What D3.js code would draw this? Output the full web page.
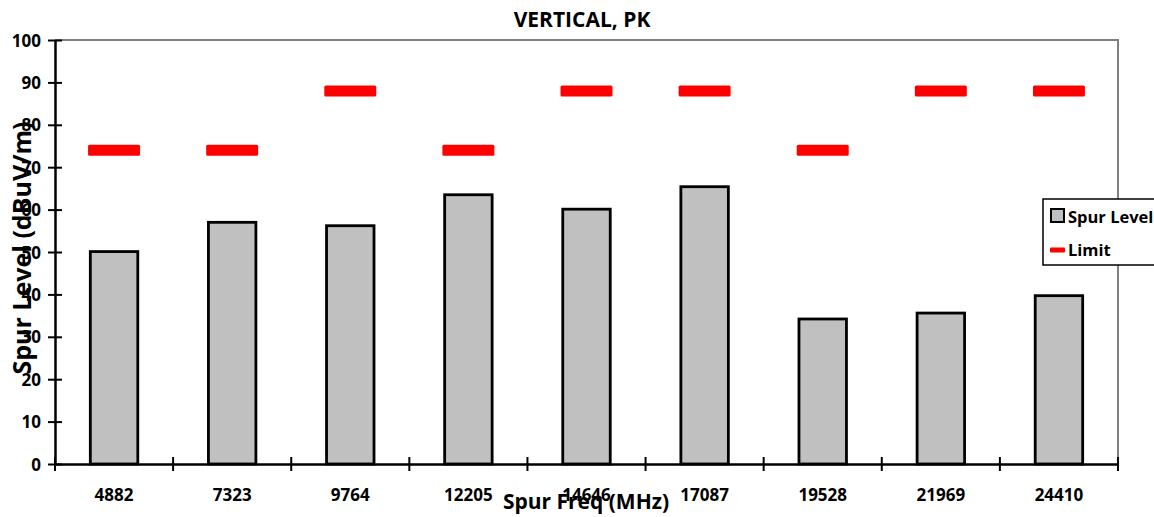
<!DOCTYPE html>
<html>
<head>
<meta charset="utf-8">
<script src="https://cdn.jsdelivr.net/npm/d3@7"></script>
<style>
  html, body { margin: 0; padding: 0; background: #fff; }
  svg { display: block; }
  text { font-family: "Open Sans", "Liberation Sans", sans-serif; font-weight: 700; fill: #000; }
</style>
</head>
<body>
<svg id="chart" width="1154" height="517"></svg>
<script>
// Spur frequencies (MHz), measured spur levels and limit lines (dBuV/m)
const categories = ["4882", "7323", "9764", "12205", "14646", "17087", "19528", "21969", "24410"];
const spurLevel = [50.1, 57.0, 56.2, 63.5, 60.1, 65.4, 34.2, 35.6, 39.7];
const limit = [74, 74, 88, 74, 88, 88, 74, 88, 88];
const yTicks = [0, 10, 20, 30, 40, 50, 60, 70, 80, 90, 100];

const svg = d3.select("#chart");
const W = 1154, H = 517;
const plot = { left: 55, right: 1118, top: 40, bottom: 464 };

const x = d3.scaleBand().domain(categories).range([plot.left, plot.right]).padding(0);
const y = d3.scaleLinear().domain([0, 100]).range([plot.bottom, plot.top]);

svg.append("rect").attr("width", W).attr("height", H).attr("fill", "#fff");

// plot frame (top and right edges)
svg.append("path")
  .attr("d", `M${plot.left},${plot.top}H${plot.right}V${plot.bottom}`)
  .attr("fill", "none").attr("stroke", "#808080").attr("stroke-width", 2);

// bars
const barW = x.bandwidth() * 0.402;
svg.append("g").selectAll("rect").data(categories).join("rect")
  .attr("x", (d) => x(d) + (x.bandwidth() - barW) / 2)
  .attr("y", (d, i) => y(spurLevel[i]))
  .attr("width", barW)
  .attr("height", (d, i) => y(0) - y(spurLevel[i]))
  .attr("fill", "#C0C0C0").attr("stroke", "#000").attr("stroke-width", 2.8);

// limit markers
const limW = x.bandwidth() * 0.44;
svg.append("g").selectAll("rect").data(categories).join("rect")
  .attr("x", (d) => x(d) + (x.bandwidth() - limW) / 2)
  .attr("y", (d, i) => y(limit[i]) - 5.5)
  .attr("width", limW).attr("height", 11)
  .attr("rx", 1.5)
  .attr("fill", "#FF0000");

// y axis
const yAxis = svg.append("g").attr("transform", `translate(${plot.left},0)`)
  .call(d3.axisLeft(y).tickValues(yTicks).tickSize(0).tickPadding(14).tickFormat(d3.format("d")));
yAxis.select(".domain").attr("stroke", "#000").attr("stroke-width", 2.5);
yAxis.selectAll(".tick text").attr("font-size", 17).attr("dy", "0.36em").attr("x", -14);
yAxis.selectAll(".tick").append("line")
  .attr("x1", -7).attr("x2", 7).attr("stroke", "#000").attr("stroke-width", 2);

// x axis
const xAxis = svg.append("g").attr("transform", `translate(0,${plot.bottom})`)
  .call(d3.axisBottom(x).tickSize(0).tickPadding(0));
xAxis.select(".domain").attr("stroke", "#000").attr("stroke-width", 2.5);
xAxis.selectAll(".tick text").attr("font-size", 17).attr("y", 37).attr("dy", 0);
// category boundary ticks
const bounds = categories.map((d) => x(d)).concat([x(categories[categories.length - 1]) + x.bandwidth()]);
xAxis.append("g").selectAll("line").data(bounds).join("line")
  .attr("x1", (d) => d).attr("x2", (d) => d)
  .attr("y1", -7).attr("y2", 7)
  .attr("stroke", "#000").attr("stroke-width", 2);

// titles
svg.append("text").attr("x", 582).attr("y", 27).attr("text-anchor", "middle")
  .attr("font-size", 21).text("VERTICAL, PK");
svg.append("text").attr("x", 586).attr("y", 509).attr("text-anchor", "middle")
  .attr("font-size", 21).text("Spur Freq (MHz)");
svg.append("text")
  .attr("transform", "translate(31,248) rotate(-90)")
  .attr("text-anchor", "middle").attr("font-size", 25)
  .text("Spur Level (dBuV/m)");

// legend
const lg = svg.append("g");
lg.append("rect").attr("x", 1043).attr("y", 199).attr("width", 140).attr("height", 66)
  .attr("fill", "#fff").attr("stroke", "#000").attr("stroke-width", 1.5);
lg.append("rect").attr("x", 1051).attr("y", 209).attr("width", 13).attr("height", 13)
  .attr("fill", "#C0C0C0").attr("stroke", "#000").attr("stroke-width", 2);
lg.append("text").attr("x", 1068).attr("y", 223).attr("font-size", 16.5).text("Spur Level");
lg.append("rect").attr("x", 1050).attr("y", 247.5).attr("width", 15).attr("height", 5)
  .attr("rx", 1).attr("fill", "#FF0000");
lg.append("text").attr("x", 1068).attr("y", 256).attr("font-size", 16.5).text("Limit");
</script>
</body>
</html>
